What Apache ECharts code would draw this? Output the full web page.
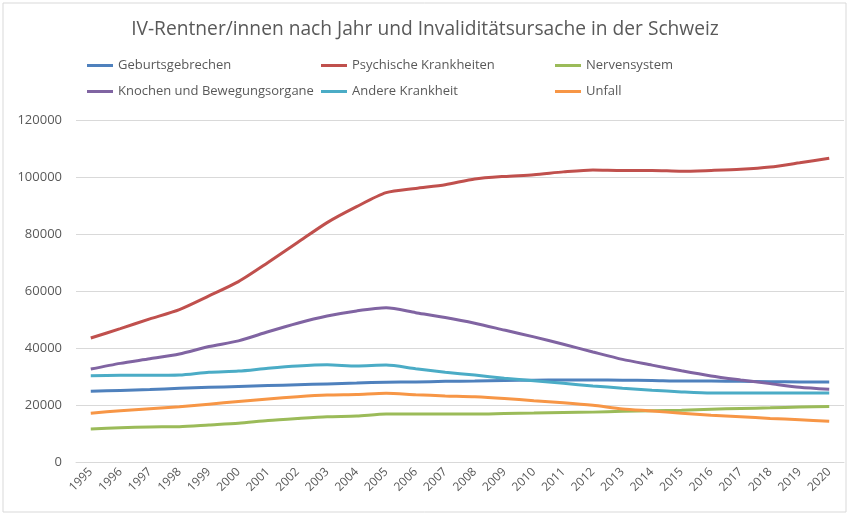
<!DOCTYPE html>
<html>
<head>
<meta charset="utf-8">
<script src="https://cdn.jsdelivr.net/npm/echarts@6/dist/echarts.min.js"></script>
<style>
  html, body { margin: 0; padding: 0; background: #fff; }
  #chart { width: 850px; height: 517px; }
</style>
</head>
<body>
<div id="chart"></div>
<script>
// Jahre
const years = ["1995","1996","1997","1998","1999","2000","2001","2002","2003","2004","2005","2006","2007",
  "2008","2009","2010","2011","2012","2013","2014","2015","2016","2017","2018","2019","2020"];

const geburtsgebrechen = [24800,25100,25400,25900,26200,26500,26800,27100,27400,27700,28000,28100,28300,
  28400,28600,28700,28800,28800,28700,28600,28400,28400,28300,28200,28100,28100];
const psychisch = [43500,46800,50200,53500,58300,63300,70000,77000,84000,89600,94500,96000,97300,
  99300,100200,100800,101800,102500,102300,102300,102000,102300,102700,103500,105000,106600];
const nervensystem = [11600,12000,12300,12400,13000,13600,14600,15300,15900,16100,16800,16800,16800,
  16800,17000,17200,17400,17500,17800,18000,18200,18500,18800,19000,19300,19500];
const knochen = [32600,34600,36200,37900,40500,42500,45700,48700,51200,53000,54100,52400,50700,
  48700,46300,43900,41300,38600,36000,34000,32000,30200,28800,27500,26200,25500];
const andere = [30300,30400,30400,30500,31500,31900,32900,33700,34100,33700,34000,32700,31500,
  30500,29400,28500,27600,26700,25900,25200,24600,24200,24200,24200,24200,24200];
const unfall = [17100,18000,18700,19400,20300,21200,22100,22900,23500,23700,24100,23600,23200,
  22900,22300,21500,20800,19900,18600,17900,17100,16400,15900,15300,14800,14300];

const yTicks = [0, 20000, 40000, 60000, 80000, 100000, 120000];

const font = "Open Sans, sans-serif";
const grey = "#595959";

const seriesDefs = [
  { name: "Geburtsgebrechen", data: geburtsgebrechen, color: "#4F81BD" },
  { name: "Psychische Krankheiten", data: psychisch, color: "#C0504D" },
  { name: "Nervensystem", data: nervensystem, color: "#9BBB59" },
  { name: "Knochen und Bewegungsorgane", data: knochen, color: "#8064A2" },
  { name: "Andere Krankheit", data: andere, color: "#4BACC6" },
  { name: "Unfall", data: unfall, color: "#F79646" }
];

const legendBase = {
  orient: "vertical",
  top: 59,
  padding: 0,
  itemGap: 13,
  icon: "rect",
  itemWidth: 26,
  itemHeight: 3,
  textStyle: { color: grey, fontSize: 13, fontFamily: font }
};

const myChart = echarts.init(document.getElementById("chart"));
myChart.setOption({
  animation: false,
  color: seriesDefs.map(s => s.color),
  title: {
    text: "IV-Rentner/innen nach Jahr und Invaliditätsursache in der Schweiz",
    left: "center",
    top: 15,
    textStyle: { color: grey, fontSize: 19.2, fontWeight: "normal", fontFamily: font }
  },
  legend: [
    Object.assign({}, legendBase, { left: 87, data: [seriesDefs[0].name, seriesDefs[3].name] }),
    Object.assign({}, legendBase, { left: 321, data: [seriesDefs[1].name, seriesDefs[4].name] }),
    Object.assign({}, legendBase, { left: 555, data: [seriesDefs[2].name, seriesDefs[5].name] })
  ],
  graphic: [{
    type: "rect",
    shape: { x: 3, y: 3, width: 843, height: 509 },
    style: { fill: "none", stroke: "#d9d9d9", lineWidth: 1 },
    silent: true
  }],
  grid: { left: 76, right: 6, top: 120, bottom: 55 },
  xAxis: {
    type: "category",
    data: years,
    boundaryGap: true,
    axisTick: { show: false },
    axisLine: { lineStyle: { color: "#d9d9d9", width: 1 } },
    axisLabel: { color: grey, fontSize: 12, fontFamily: font, rotate: 45, interval: 0, margin: 8 }
  },
  yAxis: {
    type: "value",
    min: yTicks[0],
    max: yTicks[yTicks.length - 1],
    interval: 20000,
    axisLine: { show: false },
    axisTick: { show: false },
    splitLine: { lineStyle: { color: "#d9d9d9", width: 1 } },
    axisLabel: { color: grey, fontSize: 13, fontFamily: font, margin: 14, formatter: v => String(v) }
  },
  series: seriesDefs.map(s => ({
    name: s.name,
    type: "line",
    data: s.data,
    smooth: 0.25,
    showSymbol: false,
    lineStyle: { width: 3, color: s.color },
    itemStyle: { color: s.color }
  }))
});
</script>
</body>
</html>
